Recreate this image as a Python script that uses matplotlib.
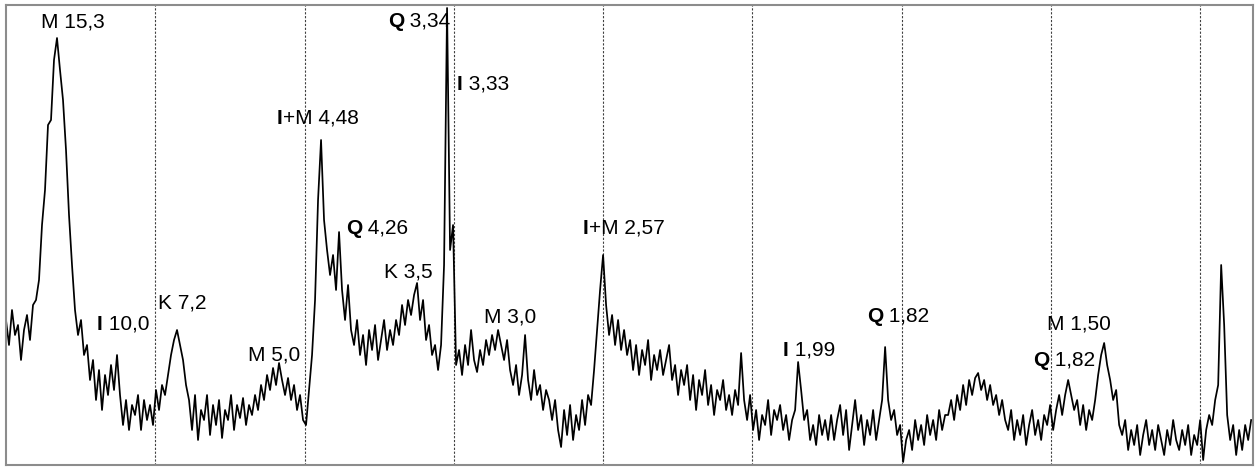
import numpy as np
import matplotlib.pyplot as plt

plt.rcParams['font.family'] = ['Liberation Sans', 'DejaVu Sans']

# scan grid (2-theta, degrees)
start_2theta = 3.0
step_2theta = 0.1608
end_2theta = 69.83

# counts, one value per scan step
intensity = [
    145, 120, 155, 130, 140, 105, 135, 150, 125, 160, 165, 185, 240,
    275, 340, 345, 405, 427, 395, 365, 315, 250, 200,
    155, 130, 145, 110, 120, 85, 105, 65, 95, 55, 90, 70, 100, 75, 110,
    70, 40, 65, 35, 60, 50, 70, 35, 65, 45, 60, 40,
    75, 55, 80, 70, 90, 110, 125, 135, 120, 105, 80,
    65, 35, 70, 25, 55, 45, 70, 30, 60, 40, 65, 27, 55, 45, 70, 35, 60, 47, 67, 40, 60, 50,
    70, 55, 80, 65, 90, 75, 97, 80, 102, 85, 70, 87, 65, 80, 55, 70, 45, 40,
    75, 110, 165, 265, 325, 245, 215, 190, 210, 175, 233,
    175, 145, 180, 135, 120, 145, 110, 130, 100, 135, 115, 140, 105, 125, 145, 115, 135, 120,
    145, 130, 160, 140, 165, 150, 170, 182, 145, 165, 125, 140, 110, 120, 95,
    120, 200, 457, 215, 240, 100,
    115, 90, 120, 100, 135, 105, 93, 115, 100, 125, 110, 130, 115, 135, 120, 105, 125, 95,
    80, 100, 70, 90, 130, 85, 65, 95, 70, 80, 55, 75, 65,
    45, 65, 35, 18, 55, 30, 60, 25, 50, 35, 65, 40, 70, 60,
    95, 135, 175, 210, 160, 130, 150, 120, 145, 115, 135,
    110, 125, 95, 120, 90, 115, 100, 125, 85, 110, 95, 115, 90, 105, 120, 85, 100, 70, 95,
    80, 100, 65, 90, 55, 85, 70, 95, 60, 80, 50, 75, 65, 85, 55, 70, 50, 75, 60, 112,
    65, 45, 70, 35, 55, 25, 50, 40, 65, 30, 55, 45, 60, 35, 50, 25, 45, 55,
    103, 75, 45, 55, 25, 40, 20, 50, 30, 45, 25,
    50, 25, 45, 60, 30, 55, 15, 40, 65, 35, 50, 20, 45, 30, 55, 25, 45, 65,
    118, 65, 45, 55, 30, 40, 3, 25,
    35, 15, 45, 25, 40, 20, 50, 30, 45, 25, 55, 35, 50,
    50, 65, 45, 70, 55, 80, 60, 85, 70, 87, 92, 75, 85, 65, 80, 60, 70, 50, 65, 45,
    35, 55, 25, 45, 30, 50, 20, 40, 55, 30, 45, 25, 50, 40, 60, 35, 55, 70, 50,
    70, 85, 70, 55, 65, 40, 60, 35, 55, 45, 65,
    90, 110, 122, 100, 85, 65, 75, 40,
    30, 45, 15, 35, 20, 40, 10, 30, 45, 20, 35, 15, 40, 25, 10, 35, 20, 45, 25, 15, 35, 20,
    40, 10, 30, 20, 45, 5, 35, 50, 40,
    65, 80, 200, 140, 50, 25, 40, 10, 35, 15, 40, 25, 45,
]

# peak labels: phase letter (I and Q are set bold), rest of label,
# 2-theta of label left edge, height of label centre
label_bold = ["", "I", "", "", "I", "Q", "",
              "Q", "I", "", "I", "I", "Q", "Q", ""]
label_rest = ["M 15,3", " 10,0", "K 7,2", "M 5,0", "+M 4,48", " 4,26", "K 3,5",
              " 3,34", " 3,33", "M 3,0", "+M 2,57", " 1,99", " 1,82", " 1,82", "M 1,50"]
label_2theta = [4.88, 7.88, 11.15, 15.97, 17.52, 21.21, 23.24,
                23.46, 27.17, 28.61, 33.92, 44.64, 49.14, 58.03, 58.78]
label_height = [443, 141, 162, 110, 347, 237, 193,
                444, 381, 148, 237, 115, 149, 105, 141]

two_theta = start_2theta + step_2theta * np.arange(len(intensity))

fig = plt.figure(figsize=(12.57, 4.68), dpi=100)
ax = fig.add_axes([6 / 1257, 3 / 468, 1247 / 1257, 460 / 468])

for g in np.arange(11, 68, 8):
    ax.axvline(g, color='#404040', lw=0.8, ls=(0, (2, 1.5)), zorder=1)

ax.plot(two_theta, intensity, color='black', lw=1.25, zorder=2)

fs = 15
for b, rest, x, y in zip(label_bold, label_rest, label_2theta, label_height):
    if b:
        t = ax.text(x, y, b, fontsize=fs, fontweight='bold', ha='left', va='center', zorder=3)
        ax.annotate(rest, xy=(1, 0), xycoords=t, ha='left', va='bottom', fontsize=fs, zorder=3)
    else:
        ax.text(x, y, rest, fontsize=fs, ha='left', va='center', zorder=3)

ax.set_xlim(start_2theta, end_2theta)
ax.set_ylim(0, 460)
ax.set_xticks([])
ax.set_yticks([])
for s in ax.spines.values():
    s.set_color('#8c8c8c')
    s.set_linewidth(1.5)

fig.savefig("out.png", dpi=100)
